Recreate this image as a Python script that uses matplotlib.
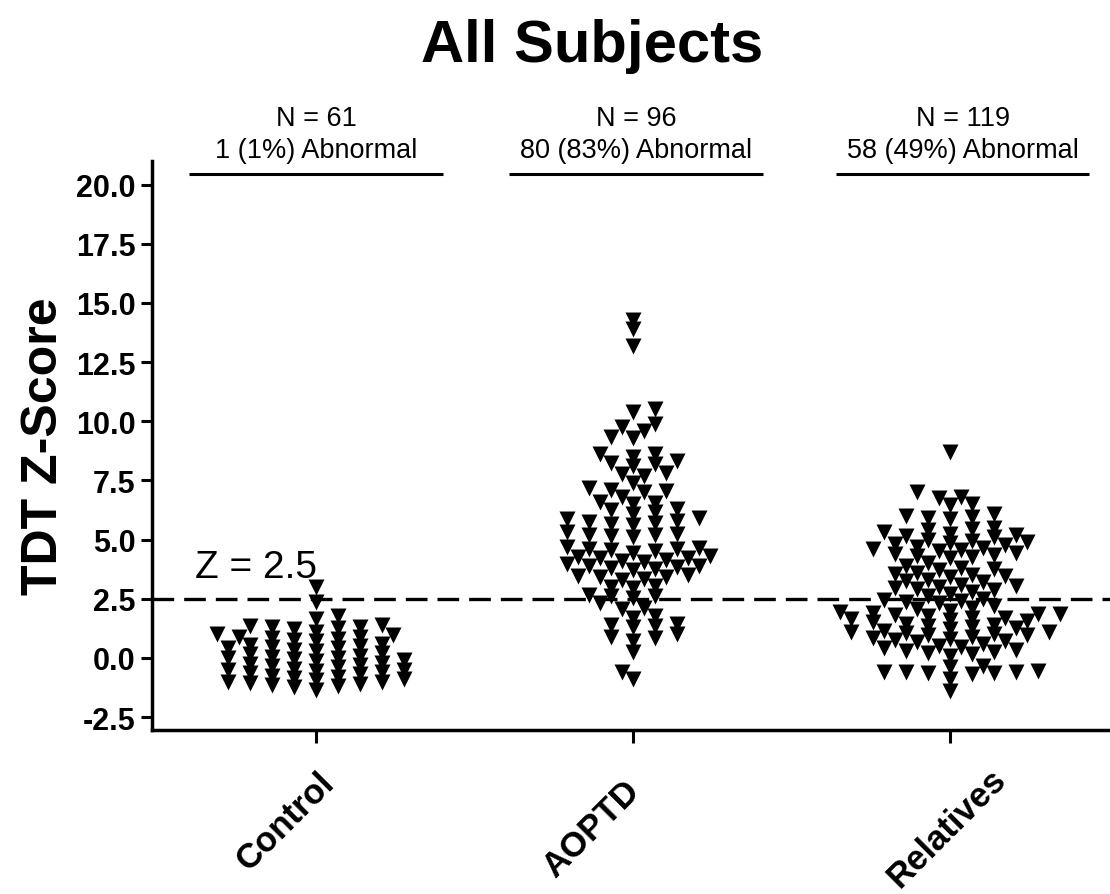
import numpy as np
import matplotlib.pyplot as plt

plt.rcParams['font.family'] = ['Liberation Sans', 'DejaVu Sans']

groups = ["Control", "AOPTD", "Relatives"]
n_labels = ["N = 61", "N = 96", "N = 119"]
abn_labels = ["1 (1%) Abnormal", "80 (83%) Abnormal", "58 (49%) Abnormal"]

control = [3.0, 2.35, 1.75, 1.65, 1.4, 1.35, 1.3, 1.3, 1.25, 1.2, 1.1, 1.0,
           0.95, 0.9, 0.9, 0.85, 0.8, 0.75, 0.7, 0.6, 0.55, 0.5, 0.45, 0.4,
           0.4, 0.35, 0.3, 0.2, 0.15, 0.1, 0.05, 0.0, 0.0, -0.05, -0.1, -0.15,
           -0.2, -0.25, -0.3, -0.35, -0.4, -0.45, -0.5, -0.5, -0.55, -0.6,
           -0.65, -0.7, -0.75, -0.8, -0.85, -0.9, -0.95, -1.0, -1.0, -1.05,
           -1.1, -1.15, -1.2, -1.25, -1.35]

aoptd = [14.3, 13.9, 13.2, 10.5, 10.4, 9.9, 9.75, 9.6, 9.35, 9.3,
         8.6, 8.6, 8.5, 8.3, 8.2, 8.25, 8.1,
         7.8, 7.75, 7.7, 7.4, 7.2, 7.1, 7.05, 7.0,
         6.8, 6.6, 6.55, 6.5, 6.3, 6.25, 6.15, 6.1,
         5.9, 5.85, 5.8, 5.75, 5.7, 5.65, 5.6,
         5.3, 5.25, 5.2, 5.2, 5.15, 5.1,
         4.7, 4.65, 4.6, 4.6, 4.55, 4.5, 4.45,
         4.3, 4.25, 4.2, 4.2, 4.15, 4.1, 4.05,
         3.95, 3.9, 3.9, 3.85, 3.8, 3.75, 3.7,
         3.5, 3.45, 3.4, 3.4, 3.35, 3.3,
         3.05, 3.0, 2.95, 2.65, 2.6, 2.6, 2.55,
         2.3, 2.1, 2.05, 1.75, 1.7, 1.45, 1.4, 1.35, 1.3, 1.0, 0.9, 0.85,
         0.7, 0.25, -0.6, -0.9]

relatives = [8.7, 7.0, 6.8, 6.75, 6.5, 6.45,
             6.1, 6.0, 5.95, 5.9, 5.85,
             5.5, 5.45, 5.4, 5.3, 5.25, 5.2, 5.15, 5.1, 5.0, 4.95, 4.9, 4.85,
             4.8, 4.75, 4.7, 4.65, 4.6, 4.55, 4.5, 4.45, 4.4, 4.35, 4.3, 4.25, 4.2,
             4.0,
             3.9, 3.8, 3.75, 3.7, 3.6, 3.55, 3.5, 3.45, 3.4,
             3.3, 3.25, 3.2, 3.1, 3.05, 3.0, 2.95, 2.9, 2.85, 2.8, 2.7, 2.6,
             2.5, 2.45, 2.4, 2.35, 2.3, 2.2,
             2.1, 2.05, 2.0, 1.95, 1.9, 1.85, 1.85, 1.8, 1.75, 1.7, 1.7, 1.65,
             1.6, 1.55, 1.5,
             1.45, 1.4, 1.35, 1.3, 1.25, 1.2, 1.15, 1.1, 1.1, 1.05, 1.0, 0.95,
             0.95, 0.9, 0.85, 0.8, 0.75, 0.7, 0.65, 0.6,
             0.5, 0.45, 0.4, 0.35, 0.3, 0.25, 0.2, 0.15, 0.1,
             -0.35, -0.4,
             -0.55, -0.6, -0.6, -0.6, -0.65, -0.65, -0.7,
             -0.9, -1.4]

cutoff = 2.5


def swarm_x(vals, xc, ax, step=11.0, w=16.0, h=9.0):
    # prism-like column scatter: spread points sideways in pixel space
    pts = ax.transData.transform(np.column_stack([np.full(len(vals), xc), vals]))
    x0 = pts[0, 0]
    ys = pts[:, 1]
    placed = []
    offs = np.zeros(len(vals))
    side = 1
    for i in np.argsort(ys):
        y = ys[i]
        cands = [0] + [s * j for j in range(1, 40) for s in (side, -side)]
        for c in cands:
            dx = c * step
            if all(((dx - px) / w) ** 2 + ((y - py) / h) ** 2 >= 1 for px, py in placed):
                break
        placed.append((dx, y))
        offs[i] = dx
        side = -side
    back = ax.transData.inverted().transform(np.column_stack([x0 + offs, ys]))
    return back[:, 0]


fig = plt.figure(figsize=(11.1, 8.95), dpi=100)
ax = fig.add_axes([0.137, 0.1832, 0.863, 0.6358])
ax.set_xlim(0.483, 3.505)
ax.set_ylim(-3.05, 21.0)

for i, vals in enumerate([control, aoptd, relatives]):
    xs = swarm_x(vals, i + 1, ax)
    ax.scatter(xs, vals, marker='v', s=11.5 ** 2, color='black', linewidths=0, zorder=3)

ax.axhline(cutoff, color='black', lw=2.4, linestyle=(0, (6.5, 3.0)), zorder=2)
ax.text(0.62, 3.42, "Z = 2.5", fontsize=28, ha='left', va='baseline')

# headers above each group
header_x = [1.0, 2.01, 3.04]
for hx, n, a in zip(header_x, n_labels, abn_labels):
    ax.plot([hx - 0.4, hx + 0.4], [20.47, 20.47], color='black', lw=2.2,
            clip_on=False, solid_capstyle='butt')
    ax.text(hx, 20.9, n + "\n" + a, ha='center', va='bottom', fontsize=19.5,
            linespacing=1.3)

ax.set_yticks(np.arange(-2.5, 20.01, 2.5))
ax.set_yticklabels([f"{v:.1f}" for v in np.arange(-2.5, 20.01, 2.5)],
                   fontsize=22, fontweight='bold')

# x category labels, rotated, placed by hand below the ticks
ax.set_xticks([1, 2, 3])
ax.set_xticklabels([])
label_off = [(-22, -65), (-30, -71), (-2, -70)]
for i, (g, (ox, oy)) in enumerate(zip(groups, label_off)):
    ax.annotate(g, xy=(i + 1, 0), xycoords=ax.get_xaxis_transform(),
                xytext=(ox, oy), textcoords='offset points', rotation=45,
                ha='center', va='center', fontsize=25, fontweight='bold',
                annotation_clip=False)

ax.tick_params(axis='y', length=8, width=2.2, pad=4)
ax.tick_params(axis='x', length=9, width=2.2)
for s in ['top', 'right']:
    ax.spines[s].set_visible(False)
for s in ['left', 'bottom']:
    ax.spines[s].set_linewidth(2.5)

ax.set_ylabel("TDT Z-Score", fontsize=36, fontweight='bold', labelpad=6)
fig.text(0.533, 0.948, "All Subjects", fontsize=43, fontweight='bold',
         ha='center', va='center')

fig.savefig("out.png", dpi=100, facecolor='white')
